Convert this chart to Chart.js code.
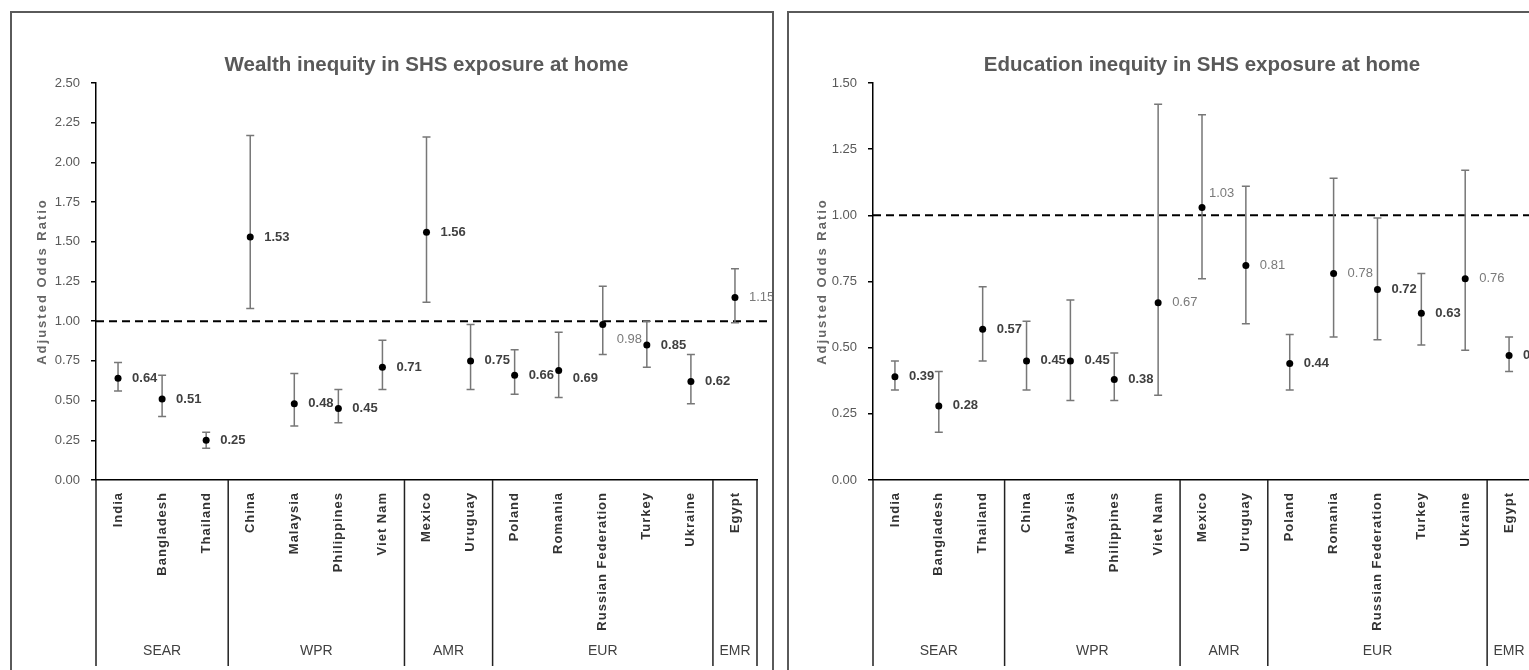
<!DOCTYPE html>
<html>
<head>
<meta charset="utf-8">
<script src="https://cdn.jsdelivr.net/npm/chart.js@4.4.1/dist/chart.umd.min.js"></script>
<style>
  html, body { margin: 0; padding: 0; background: #fff; width: 1529px; height: 670px; overflow: hidden; }
  .panel { position: absolute; top: 11px; height: 700px; border: 2px solid #5a5a5a; box-sizing: border-box; background: #fff; }
  #leftPanel { left: 10px; width: 764px; }
  #rightPanel { left: 787px; width: 800px; }
  canvas { display: block; }
</style>
</head>
<body>
<div class="panel" id="leftPanel"><canvas id="wealth" width="760" height="690"></canvas></div>
<div class="panel" id="rightPanel"><canvas id="education" width="796" height="690"></canvas></div>
<script>
// ---- data ----
var countries = ['India', 'Bangladesh', 'Thailand', 'China', 'Malaysia', 'Philippines', 'Viet Nam',
                 'Mexico', 'Uruguay', 'Poland', 'Romania', 'Russian Federation', 'Turkey', 'Ukraine', 'Egypt'];
var regionNames = ['SEAR', 'WPR', 'AMR', 'EUR', 'EMR'];
var regionSizes = [3, 4, 2, 5, 1];

var wealthOR   = [0.64, 0.51, 0.25, 1.53, 0.48, 0.45, 0.71, 1.56, 0.75, 0.66, 0.69, 0.98, 0.85, 0.62, 1.15];
var wealthLow  = [0.56, 0.40, 0.20, 1.08, 0.34, 0.36, 0.57, 1.12, 0.57, 0.54, 0.52, 0.79, 0.71, 0.48, 0.99];
var wealthHigh = [0.74, 0.66, 0.30, 2.17, 0.67, 0.57, 0.88, 2.16, 0.98, 0.82, 0.93, 1.22, 1.00, 0.79, 1.33];

var eduOR   = [0.39, 0.28, 0.57, 0.45, 0.45, 0.38, 0.67, 1.03, 0.81, 0.44, 0.78, 0.72, 0.63, 0.76, 0.47];
var eduLow  = [0.34, 0.18, 0.45, 0.34, 0.30, 0.30, 0.32, 0.76, 0.59, 0.34, 0.54, 0.53, 0.51, 0.49, 0.41];
var eduHigh = [0.45, 0.41, 0.73, 0.60, 0.68, 0.48, 1.42, 1.38, 1.11, 0.55, 1.14, 0.99, 0.78, 1.17, 0.54];

var wealthTicksMax = 2.5;
var eduTicksMax = 1.5;

// ---- plugin: CI whiskers, reference line, labels, grouped axis ----
var ciPlugin = {
    id: 'ciPlugin',
    beforeDatasetsDraw: function (chart, args, opts) {
        var ctx = chart.ctx, a = chart.chartArea, x = chart.scales.x, y = chart.scales.y;
        ctx.save();
        // dashed line at OR = 1
        var y1 = y.getPixelForValue(1);
        ctx.strokeStyle = '#000';
        ctx.lineWidth = 2;
        ctx.setLineDash([8, 5]);
        ctx.beginPath();
        ctx.moveTo(a.left, y1);
        ctx.lineTo(a.right + 40, y1);
        ctx.stroke();
        ctx.setLineDash([]);
        // error bars
        ctx.strokeStyle = '#777';
        ctx.lineWidth = 1.5;
        opts.low.forEach(function (lo, i) {
            var px = x.getPixelForValue(i);
            var yl = y.getPixelForValue(lo), yh = y.getPixelForValue(opts.high[i]);
            ctx.beginPath();
            ctx.moveTo(px, yl); ctx.lineTo(px, yh);
            ctx.moveTo(px - 4, yl); ctx.lineTo(px + 4, yl);
            ctx.moveTo(px - 4, yh); ctx.lineTo(px + 4, yh);
            ctx.stroke();
        });
        ctx.restore();
    },
    afterDatasetsDraw: function (chart, args, opts) {
        var ctx = chart.ctx, x = chart.scales.x, y = chart.scales.y;
        var vals = chart.data.datasets[0].data;
        ctx.save();
        ctx.textAlign = 'left';
        ctx.textBaseline = 'middle';
        vals.forEach(function (v, i) {
            var sig = opts.high[i] <= 1 || opts.low[i] >= 1;
            var nudge = (opts.nudge && opts.nudge[i]) || [14, 0];
            ctx.font = (sig ? 'bold ' : '') + '13px "Liberation Sans", Arial, sans-serif';
            ctx.fillStyle = sig ? '#404040' : '#7a7a7a';
            ctx.fillText(v.toFixed(2), x.getPixelForValue(i) + nudge[0], y.getPixelForValue(v) + nudge[1]);
        });
        ctx.restore();
    },
    afterDraw: function (chart, args, opts) {
        var ctx = chart.ctx, a = chart.chartArea, x = chart.scales.x;
        ctx.save();
        // category labels (rotated)
        ctx.font = 'bold 13px "Liberation Sans", Arial, sans-serif';
        ctx.letterSpacing = '1px';
        ctx.fillStyle = '#333';
        ctx.textAlign = 'right';
        ctx.textBaseline = 'middle';
        chart.data.labels.forEach(function (lab, i) {
            ctx.save();
            ctx.translate(x.getPixelForValue(i), a.bottom + 12);
            ctx.rotate(-Math.PI / 2);
            ctx.fillText(lab, 0, 0);
            ctx.restore();
        });
        // region separators and names
        ctx.letterSpacing = '0px';
        ctx.strokeStyle = '#222';
        ctx.lineWidth = 1.5;
        ctx.font = '14px "Liberation Sans", Arial, sans-serif';
        ctx.fillStyle = '#404040';
        ctx.textAlign = 'center';
        var start = 0;
        var edges = [x.getPixelForValue(-0.5)];
        regionSizes.forEach(function (n, k) {
            var l = x.getPixelForValue(start - 0.5), r = x.getPixelForValue(start + n - 0.5);
            edges.push(r);
            ctx.fillText(regionNames[k], (l + r) / 2, opts.groupY);
            start += n;
        });
        ctx.beginPath();
        edges.forEach(function (ex) {
            ctx.moveTo(ex, a.bottom);
            ctx.lineTo(ex, opts.groupBottom);
        });
        ctx.stroke();
        // y-axis title
        ctx.font = 'bold 13px "Liberation Sans", Arial, sans-serif';
        ctx.letterSpacing = '2px';
        ctx.fillStyle = '#666';
        ctx.translate(opts.yTitleX, (a.top + a.bottom) / 2);
        ctx.rotate(-Math.PI / 2);
        ctx.fillText('Adjusted Odds Ratio', 0, 0);
        ctx.restore();
    }
};

function makeChart(id, title, values, low, high, yMax, rightPad, yTitleX, nudge) {
    var ctx = document.getElementById(id).getContext('2d');
    return new Chart(ctx, {
        type: 'line',
        data: {
            labels: countries,
            datasets: [{
                data: values,
                showLine: false,
                pointRadius: 3.5,
                pointHoverRadius: 3.5,
                pointBackgroundColor: '#000',
                pointBorderColor: '#000',
                pointBorderWidth: 0
            }]
        },
        options: {
            responsive: false,
            animation: false,
            layout: { padding: { left: 0, right: rightPad, top: 0, bottom: 0 } },
            plugins: {
                legend: { display: false },
                tooltip: { enabled: false },
                title: {
                    display: true,
                    text: title,
                    color: '#595959',
                    fullSize: false,
                    font: { family: '"Liberation Sans", Arial, sans-serif', size: 20.5, weight: 'bold' },
                    padding: { top: 40, bottom: 5.4 }
                },
                ciPlugin: { low: low, high: high, groupY: 638, groupBottom: 653, yTitleX: yTitleX, nudge: nudge }
            },
            scales: {
                x: {
                    type: 'category',
                    offset: true,
                    grid: { display: false, drawTicks: false },
                    border: { color: '#000', width: 1.5 },
                    ticks: { display: false },
                    afterFit: function (s) { s.height = 223; }
                },
                y: {
                    min: 0,
                    max: yMax,
                    ticks: {
                        stepSize: 0.25,
                        color: '#595959',
                        padding: 11,
                        font: { family: '"Liberation Sans", Arial, sans-serif', size: 13 },
                        callback: function (v) { return Number(v).toFixed(2); }
                    },
                    grid: { drawOnChartArea: false, tickLength: 5, color: '#000', lineWidth: 1.5 },
                    border: { color: '#000', width: 1.5 },
                    afterFit: function (s) { s.width = 84; }
                }
            }
        },
        plugins: [ciPlugin]
    });
}

// ---- Chart 1 :: wealth ----
makeChart('wealth', 'Wealth inequity in SHS exposure at home', wealthOR, wealthLow, wealthHigh,
          wealthTicksMax, 15, 30, { 10: [14, 8], 11: [14, 15] });

// ---- Chart 2 :: education ----
makeChart('education', 'Education inequity in SHS exposure at home', eduOR, eduLow, eduHigh,
          eduTicksMax, 54, 33, { 7: [7, -14] });
</script>
</body>
</html>
